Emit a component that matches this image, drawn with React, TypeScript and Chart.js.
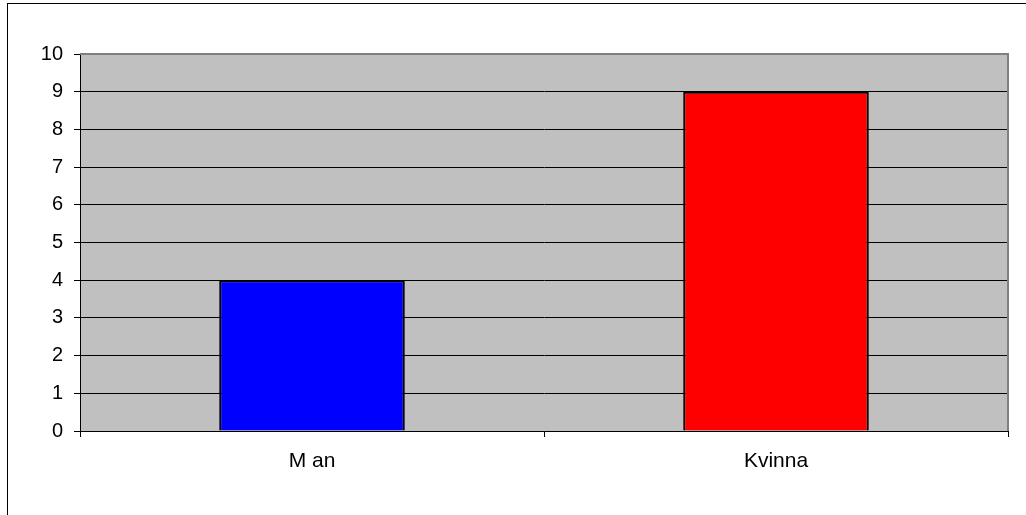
import React, { useEffect, useRef } from "react";
import { Chart, registerables } from "chart.js";

Chart.register(...registerables);

const categories = ["M an", "Kvinna"];
const values = [4, 9];
const barColors = ["#0000FF", "#FF0000"];
const yMin = 0;
const yMax = 10;
const yStep = 1;

const framePlugin = {
  id: "frame",
  beforeDraw(chart: any) {
    const { ctx, chartArea } = chart;
    ctx.save();
    ctx.fillStyle = "#FFFFFF";
    ctx.fillRect(0, 0, chart.width, chart.height);
    ctx.fillStyle = "#C0C0C0";
    ctx.fillRect(chartArea.left, chartArea.top, chartArea.right - chartArea.left, chartArea.bottom - chartArea.top);
    ctx.restore();
  },
  afterDraw(chart: any) {
    const { ctx, chartArea } = chart;
    ctx.save();
    ctx.strokeStyle = "#808080";
    ctx.lineWidth = 2;
    ctx.beginPath();
    ctx.moveTo(chartArea.left, chartArea.top);
    ctx.lineTo(chartArea.right, chartArea.top);
    ctx.lineTo(chartArea.right, chartArea.bottom);
    ctx.stroke();
    ctx.strokeStyle = "#000000";
    ctx.lineWidth = 1;
    ctx.strokeRect(7.5, 3.5, 1200, 800);
    ctx.restore();
  },
};

export default function App() {
  const ref = useRef<HTMLCanvasElement>(null);
  useEffect(() => {
    if (!ref.current) return;
    const chart = new Chart(ref.current, {
      type: "bar",
      data: {
        labels: categories,
        datasets: [
          {
            data: values,
            backgroundColor: barColors,
            borderColor: "#000000",
            borderWidth: 2,
            categoryPercentage: 1,
            barPercentage: 0.4,
          },
        ],
      },
      options: {
        responsive: false,
        animation: false,
        layout: { padding: { top: 54, right: 18, bottom: 0, left: 0 } },
        plugins: { legend: { display: false }, tooltip: { enabled: false } },
        scales: {
          x: {
            grid: {
              drawOnChartArea: false,
              drawTicks: true,
              tickLength: 6,
              color: "#000000",
              offset: true,
            },
            border: { color: "#000000", width: 1 },
            ticks: {
              color: "#000000",
              padding: 12,
              font: { family: "'Liberation Sans', Arial, sans-serif", size: 21 },
            },
            afterFit(scale: any) {
              scale.height = 84;
            },
          },
          y: {
            min: yMin,
            max: yMax,
            grid: { color: "#000000", tickLength: 6, lineWidth: 1 },
            border: { color: "#000000", width: 1 },
            ticks: {
              stepSize: yStep,
              color: "#000000",
              padding: 11,
              font: { family: "'Liberation Sans', Arial, sans-serif", size: 20 },
            },
            afterFit(scale: any) {
              scale.width = 80;
            },
          },
        },
      },
      plugins: [framePlugin],
    });
    return () => chart.destroy();
  }, []);
  return (
    <div style={{ position: "absolute", left: 0, top: 0, width: 1026, height: 515 }}>
      <canvas ref={ref} width={1026} height={515} style={{ display: "block" }} />
    </div>
  );
}
